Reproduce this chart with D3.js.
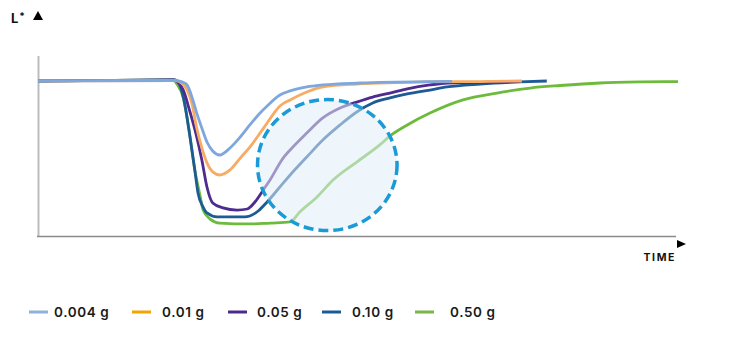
<!DOCTYPE html>
<html><head><meta charset="utf-8">
<script src="https://cdn.jsdelivr.net/npm/d3@7"></script>
<style>body{margin:0;background:#fff}svg{display:block}text{font-variant-numeric:proportional-nums}</style>
</head><body><svg id="c" width="733" height="337"></svg>
<script>
const seriesNames = ["0.004 g","0.01 g","0.05 g","0.10 g","0.50 g"];
const lineColors = ["#7ea7dd","#f8ab63","#4e2b8f","#1d5a96","#6dbb3c"];
const legendColors = ["#8fb0d9","#f0a500","#4b2a8a","#1b5a94","#7ab648"];
// time (arbitrary units 0-100), L* (0-100)
const t004 = [0,21.4,22.5,23.3,24.1,24.8,25.6,26.4,27.3,28.4,30.0,31.6,33.1,34.7,35.8,37.8,39.4,42.0,44.5,50.3,61.25,64.7];
const L004 = [86.1,86.4,85.6,83.9,76.7,68.3,60,52.2,47.2,45,48.9,55,61.7,68.3,72.2,78.3,80.6,82.8,83.9,85,85.8,85.9];
const t001 = [0,21.4,22.2,23.3,24.1,24.8,25.6,26.4,27.3,28.4,30.0,31.6,33.1,34.7,35.8,37.8,39.4,42.0,44.5,49.8,61.25,69.1,75.6];
const L001 = [86.1,86.4,85.6,81.1,72.8,60,48.9,40.6,35.6,33.9,36.7,43.3,49.4,57.2,62.8,72.2,75.6,80,82.8,84.4,85.6,85.8,86.1];
const t005 = [0,21.25,22.0,22.7,23.75,24.8,25.6,26.4,27.3,28.9,31.1,32.7,33.9,35.2,36.25,38.3,39.4,42.0,44.5,47.2,49.8,52.3,55.0,57.7,61.25,63.9,69.1,75.3];
const L005 = [86.1,86.7,85,81.1,68.9,55,42.2,27.2,18.3,15.6,14.4,15,18.9,25.6,31.1,43.3,47.8,57.2,65.6,71.1,74.4,77.2,79.4,81.7,83.9,85,85.3,85.8];
const t010 = [0,21.4,22.0,22.8,23.75,24.5,25.0,25.8,26.4,28.0,30.0,32.3,33.1,34.4,35.8,38.3,39.4,42.0,44.5,47.2,49.8,52.3,55.0,57.7,61.25,63.9,69.1,75.3,79.5];
const L010 = [86.1,86.7,85,75.6,55,36.7,23.9,16.1,12.8,10.6,10.6,10.6,11.1,13.9,18.9,29.4,33.9,43.9,53.3,61.7,68.9,73.9,76.7,78.9,81.1,82.8,84.4,85.6,86.1];
const t050 = [0,21.1,21.7,22.7,23.6,24.5,25.3,25.8,26.9,28.4,33.1,36.25,39.4,40.9,43.6,46.1,49.8,53.4,55.0,57.7,61.25,66.4,71.7,76.9,81.6,87.8,94.1,100];
const L050 = [86.1,86.7,84.4,76.7,58.9,36.7,22.8,14.4,9.4,7.2,6.7,7.2,7.8,13.3,21.7,31.1,41.1,50.6,55.6,61.7,68.3,75.6,79.4,82.2,83.6,85,85.6,85.8];
const times = [t004,t001,t005,t010,t050];
const values = [L004,L001,L005,L010,L050];
// highlighted region (centre time, centre L*, half-width in time, half-height in L*)
const highlight = {t:45.2, L:39.4, dt:10.9, dL:36.4};
const yLabel = "L*";
const xLabel = "TIME";

const svg = d3.select("#c");
const x = d3.scaleLinear().domain([0,100]).range([38,678]);
const y = d3.scaleLinear().domain([0,100]).range([236,56]);
const FONT = "Inter, Lato, sans-serif";

// axes
svg.append("line").attr("x1",38.5).attr("x2",38.5).attr("y1",y(100)).attr("y2",y(0)+1)
  .attr("stroke","#bcbcbc").attr("stroke-width",2);
svg.append("line").attr("x1",37).attr("x2",676).attr("y1",236.5).attr("y2",236.5)
  .attr("stroke","#8a8a8a").attr("stroke-width",1.5);
// arrows
svg.append("path").attr("d","M677,240 L686,244 L677,248 Z").attr("fill","#000");
svg.append("path").attr("d","M33,20 L38,11 L43,20 Z").attr("fill","#000");
svg.append("text").attr("x",11).attr("y",23).attr("font-family",FONT)
  .attr("font-weight",700).attr("font-size",13).attr("fill","#111")
  .text(yLabel.charAt(0)).append("tspan").attr("dx",1).attr("dy",-3).attr("font-size",10).text(yLabel.slice(1));
svg.append("text").attr("x",676).attr("y",261).attr("text-anchor","end")
  .attr("font-family",FONT).attr("font-weight",700).attr("font-size",10.5)
  .attr("letter-spacing",1.6).attr("fill","#111").text(xLabel);

const line = d3.line().x(d=>x(d[0])).y(d=>y(d[1])).curve(d3.curveMonotoneX);
const order = [4,3,2,1,0];
order.forEach(i=>{
  const pts = times[i].map((t,j)=>[t, values[i][j]]);
  svg.append("path").datum(pts).attr("d",line).attr("fill","none")
    .attr("stroke",lineColors[i]).attr("stroke-width",2.8).attr("stroke-linejoin","round");
});

// highlight ellipse
svg.append("ellipse")
  .attr("cx",x(highlight.t)).attr("cy",y(highlight.L))
  .attr("rx",x(highlight.t+highlight.dt)-x(highlight.t))
  .attr("ry",y(highlight.L)-y(highlight.L+highlight.dL))
  .attr("fill","#e2eff7").attr("fill-opacity",0.55)
  .attr("stroke","#1a9ad6").attr("stroke-width",3.5).attr("stroke-dasharray","10,5");

// legend
const legX = [29,132,228,322,415];
const txtX = [54,162,257,352,450];
seriesNames.forEach((n,i)=>{
  svg.append("line").attr("x1",legX[i]).attr("x2",legX[i]+19).attr("y1",312).attr("y2",312)
    .attr("stroke",legendColors[i]).attr("stroke-width",3);
  svg.append("text").attr("x",txtX[i]).attr("y",317).attr("font-family",FONT)
    .attr("font-weight",600).attr("font-size",13.5).attr("letter-spacing",0.6).attr("fill","#1a1a1a").text(n);
});
</script></body></html>
